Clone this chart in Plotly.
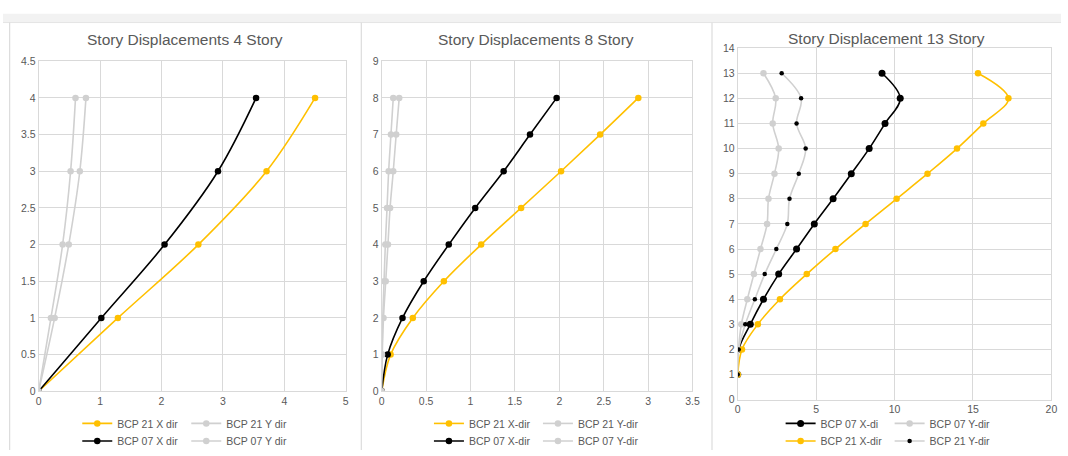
import plotly.graph_objects as go

# ---------------- data ----------------
# 4-story building
stories_4 = [0, 1, 2, 3, 4]
bcp21_x_4 = [0, 1.29, 2.60, 3.71, 4.50]
bcp21_y_4 = [0, 0.26, 0.49, 0.67, 0.77]
bcp07_x_4 = [0, 1.02, 2.05, 2.92, 3.54]
bcp07_y_4 = [0, 0.20, 0.39, 0.52, 0.60]

# 8-story building
stories_8 = [0, 1, 2, 3, 4, 5, 6, 7, 8]
bcp21_x_8 = [0, 0.10, 0.35, 0.70, 1.12, 1.57, 2.02, 2.46, 2.89]
bcp21_y_8 = [0, 0.006, 0.020, 0.045, 0.070, 0.094, 0.130, 0.163, 0.197]
bcp07_x_8 = [0, 0.067, 0.234, 0.473, 0.755, 1.053, 1.373, 1.67, 1.97]
bcp07_y_8 = [0, 0.003, 0.012, 0.026, 0.041, 0.060, 0.078, 0.104, 0.130]

# 13-story building
stories_13 = [1, 2, 3, 4, 5, 6, 7, 8, 9, 10, 11, 12, 13]
bcp07_x_13 = [0, 0.06, 0.80, 1.64, 2.61, 3.75, 4.88, 6.08, 7.24, 8.38, 9.39, 10.36, 9.20]
bcp07_y_13 = [0, 0.05, 0.23, 0.61, 1.03, 1.45, 1.87, 1.96, 2.34, 2.61, 2.23, 2.42, 1.64]
bcp21_x_13 = [0, 0.27, 1.28, 2.69, 4.40, 6.23, 8.15, 10.13, 12.10, 13.98, 15.66, 17.26, 15.32]
bcp21_y_13 = [0, 0.06, 0.48, 1.09, 1.72, 2.46, 3.16, 3.30, 3.89, 4.33, 3.75, 4.04, 2.80]

titles = ["Story Displacements 4 Story", "Story Displacements 8 Story", "Story Displacement 13 Story"]

# ---------------- styling ----------------
YELLOW = "#FFC000"
BLACK = "#000000"
GRAY = "#D0D0D0"
TEXT = "#595959"
GRID = "#D9D9D9"
FONT = "Liberation Sans, Arial, sans-serif"
W, H = 1068, 456

fig = go.Figure()


def add(x, y, name, color, axis, legend, msize=6.5, mcolor=None):
    fig.add_trace(go.Scatter(
        x=x, y=y, name=name, mode="lines+markers",
        line=dict(color=color, width=1.6, shape="spline", smoothing=1.0),
        marker=dict(color=mcolor or color, size=msize),
        xaxis="x" + axis, yaxis="y" + axis, legend=legend,
    ))


# panel 1
add(bcp21_x_4, stories_4, "BCP 21 X dir", YELLOW, "", "legend")
add(bcp21_y_4, stories_4, "BCP 21 Y dir", GRAY, "", "legend")
add(bcp07_x_4, stories_4, "BCP 07 X dir", BLACK, "", "legend2")
add(bcp07_y_4, stories_4, "BCP 07 Y dir", GRAY, "", "legend2")
# panel 2
add(bcp21_x_8, stories_8, "BCP 21 X-dir", YELLOW, "2", "legend3")
add(bcp21_y_8, stories_8, "BCP 21 Y-dir", GRAY, "2", "legend3")
add(bcp07_x_8, stories_8, "BCP 07 X-dir", BLACK, "2", "legend4")
add(bcp07_y_8, stories_8, "BCP 07 Y-dir", GRAY, "2", "legend4")
# panel 3
add(bcp07_x_13, stories_13, "BCP 07 X-di", BLACK, "3", "legend5", msize=7)
add(bcp07_y_13, stories_13, "BCP 07 Y-dir", GRAY, "3", "legend5")
add(bcp21_x_13, stories_13, "BCP 21 X-dir", YELLOW, "3", "legend6")
add(bcp21_y_13, stories_13, "BCP 21 Y-dir", GRAY, "3", "legend6", msize=4.5, mcolor=BLACK)


def fx(px):
    """pixel x -> paper fraction"""
    return px / W


def fy(py):
    """pixel y (from top) -> paper fraction"""
    return (H - py) / H


axis_common = dict(
    showgrid=True, gridcolor=GRID, gridwidth=1,
    showline=True, linecolor=GRID, linewidth=1, mirror=True,
    zeroline=False, ticks="", fixedrange=True,
    tickfont=dict(family=FONT, size=10.5, color=TEXT),
)

layout_axes = dict(
    xaxis=dict(domain=[fx(36), fx(346)], range=[0, 5], dtick=1, anchor="y", **axis_common),
    yaxis=dict(domain=[fy(395.7), fy(56.7)], range=[0, 4.5], dtick=0.5, anchor="x", **axis_common),
    xaxis2=dict(domain=[fx(382.3), fx(696)], range=[0, 3.5], dtick=0.5, anchor="y2", **axis_common),
    yaxis2=dict(domain=[fy(395.7), fy(56.7)], range=[0, 9], dtick=1, anchor="x2", **axis_common),
    xaxis3=dict(domain=[fx(741.7), fx(1058.3)], range=[0, 20], dtick=5, anchor="y3", **axis_common),
    yaxis3=dict(domain=[fy(404.3), fy(43.3)], range=[0, 14], dtick=1, anchor="x3", **axis_common),
)

legend_common = dict(
    orientation="h", xanchor="center", yanchor="middle",
    font=dict(family=FONT, size=10.5, color=TEXT),
    bgcolor="rgba(0,0,0,0)", entrywidth=64, entrywidthmode="pixels",
    itemclick=False, itemdoubleclick=False,
)
legends = {}
for i, (cx, ry) in enumerate([(185, 428.7), (185, 446.7), (540, 428.7), (540, 446.7),
                               (895, 428.7), (895, 446.7)]):
    key = "legend" if i == 0 else f"legend{i + 1}"
    legends[key] = dict(x=fx(cx), y=fy(ry), **legend_common)

# page frame: grey strip on top and separators between the chart panels
shapes = [
    dict(type="rect", xref="paper", yref="paper", x0=0, x1=1,
         y0=fy(17), y1=fy(8), fillcolor="#F2F2F2",
         line=dict(width=0), layer="below"),
    dict(type="line", xref="paper", yref="paper", x0=0, x1=1,
         y0=fy(17), y1=fy(17), line=dict(color="#E4E4E4", width=1)),
]
for xs in (6.7, 361.7, 715.7):
    shapes.append(dict(type="line", xref="paper", yref="paper",
                       x0=fx(xs), x1=fx(xs), y0=0, y1=fy(17),
                       line=dict(color="#DCDCDC", width=1.2)))

annotations = []
for t, cx, cy in zip(titles, (184, 538.5, 892), (34, 34, 33.5)):
    annotations.append(dict(text=t, x=fx(cx), y=fy(cy), xref="paper", yref="paper",
                            xanchor="center", yanchor="middle", showarrow=False,
                            font=dict(family=FONT, size=15.5, color=TEXT)))

fig.update_layout(
    width=W, height=H, margin=dict(l=0, r=0, t=0, b=0),
    paper_bgcolor="white", plot_bgcolor="white",
    showlegend=True, shapes=shapes, annotations=annotations,
    **layout_axes, **legends,
)

fig.write_html("out.html", config={"displayModeBar": False})
